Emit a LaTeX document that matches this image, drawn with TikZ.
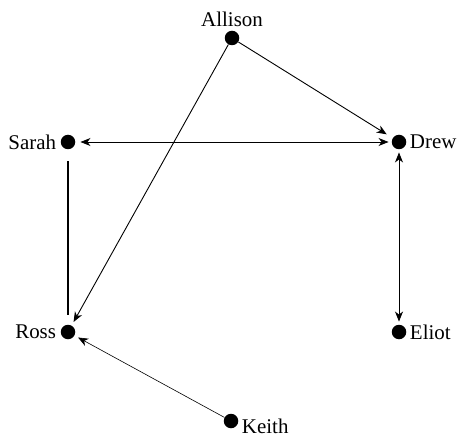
\documentclass[tikz,border=0pt]{standalone}
\usepackage{fontspec}
\setmainfont{Liberation Serif}
\usetikzlibrary{arrows.meta}

\begin{document}
\begin{tikzpicture}[x=1bp, y=-1bp, every node/.style={font=\fontsize{21}{23}\selectfont},
  person/.style={circle, fill=black, inner sep=0pt, minimum size=14.5bp},
  link/.style={line width=0.9bp},
  tip/.style={-{Stealth[length=10bp, width=8bp, inset=3bp]}},
  twotips/.style={{Stealth[length=10bp, width=8bp, inset=3bp]}-{Stealth[length=10bp, width=8bp, inset=3bp]}}]

  \useasboundingbox (0,0) rectangle (459,439);

  % People
  \node[person, label={[label distance=0bp]above:Allison}] (allison) at (232,38) {};
  \node[person, label={[label distance=1bp]left:Sarah}]    (sarah)   at (68,142) {};
  \node[person, label={[label distance=0bp]right:Drew}]    (drew)    at (399,142) {};
  \node[person, label={[label distance=1bp]left:Ross}]     (ross)    at (68,332) {};
  \node[person, label={[label distance=0bp]right:Eliot}]   (eliot)   at (399,332) {};
  \node[person, label={[yshift=-5pt]right:Keith}]          (keith)   at (231,421) {};

  % Ties
  \draw[link, tip, shorten >=7bp] (allison) -- (drew);
  \draw[link, tip, shorten >=4bp] (allison) -- (ross);
  \draw[link, twotips, shorten <=5bp, shorten >=3bp] (sarah) -- (drew);
  \draw[link, twotips, shorten <=3bp, shorten >=3bp] (drew) -- (eliot);
  \draw[link, line width=1.1bp, shorten <=12bp, shorten >=10bp] (sarah) -- (ross);
  \draw[link, line width=0.6bp, tip, shorten >=4bp] (keith) -- (ross);

\end{tikzpicture}
\end{document}
